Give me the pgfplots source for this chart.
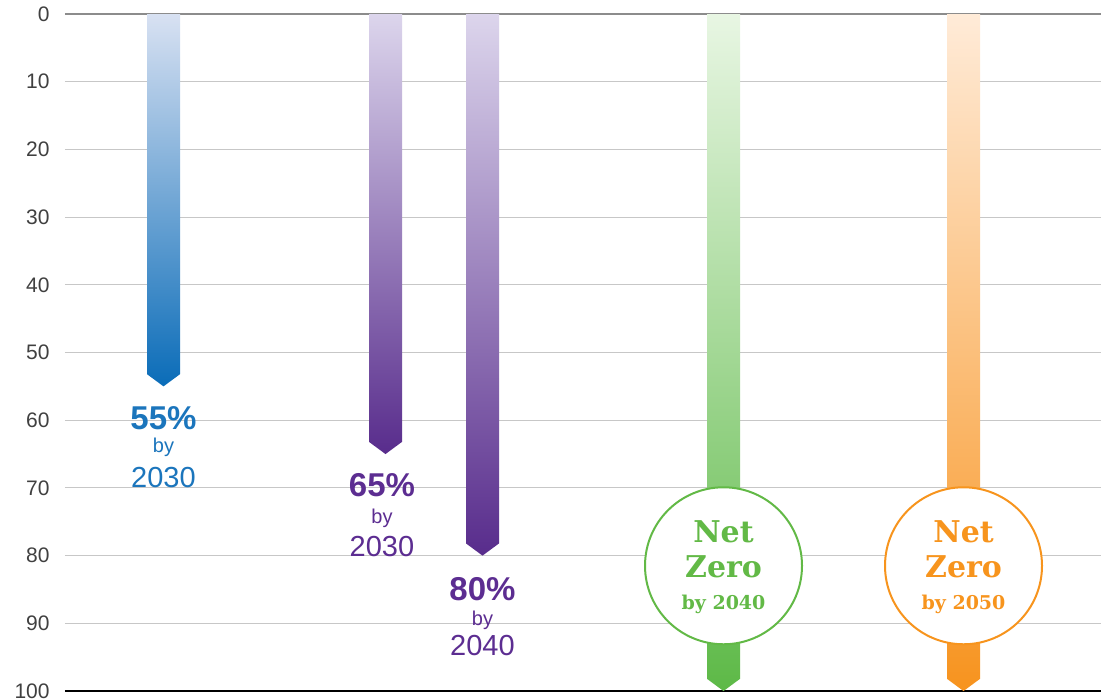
\documentclass[border=0pt]{standalone}
\usepackage{fontspec}
\setmainfont{Liberation Sans}
\newfontfamily\slab{DejaVu Serif}
\usepackage{pgfplots}
\pgfplotsset{compat=1.18}
\definecolor{blueL}{HTML}{D8E1F2}
\definecolor{blueD}{HTML}{0A6CB8}
\definecolor{blueT}{HTML}{1B75BC}
\definecolor{purL}{HTML}{DCD5EC}
\definecolor{purD}{HTML}{582C8C}
\definecolor{purT}{HTML}{5C2D91}
\definecolor{grnL}{HTML}{E8F6E3}
\definecolor{grnD}{HTML}{5DB947}
\definecolor{grnT}{HTML}{62B946}
\definecolor{orgL}{HTML}{FFEBD8}
\definecolor{orgD}{HTML}{F7931E}
\definecolor{orgT}{HTML}{F7941D}
\begin{document}
\begin{tikzpicture}
\useasboundingbox (-32.5pt,-3.5pt) rectangle (518pt,345.5pt);
\begin{axis}[
  at={(0,0)}, anchor=south west,
  scale only axis, width=518pt, height=338.5pt,
  xmin=0, xmax=1036, ymin=0, ymax=100,
  y dir=reverse, clip=false,
  xtick=\empty, ytick={0,10,...,100},
  ymajorgrids, grid style={draw=black!22, line width=0.5pt},
  axis line style={draw=none}, major tick length=0pt,
  /pgf/number format/assume math mode=true,
  yticklabel style={font=\fontsize{10.5}{12}\selectfont, text=black!75, inner sep=0pt, xshift=-7.5pt},
]
\draw[black!45, line width=1pt] (axis cs:0,0) -- (axis cs:1036,0);
\draw[black, line width=1pt] (axis cs:0,100) -- (axis cs:1036,100);
% bars: 55, 65, 80, 100, 100
\addplot[draw=none, top color=blueL, bottom color=blueD] coordinates {(82,0) (82,53.2) (98.5,55) (115,53.2) (115,0)} -- cycle;
\addplot[draw=none, top color=purL, bottom color=purD] coordinates {(304,0) (304,63.2) (320.5,65) (337,63.2) (337,0)} -- cycle;
\addplot[draw=none, top color=purL, bottom color=purD] coordinates {(401,0) (401,78.2) (417.5,80) (434,78.2) (434,0)} -- cycle;
\addplot[draw=none, top color=grnL, bottom color=grnD] coordinates {(642,0) (642,98.2) (658.5,100) (675,98.2) (675,0)} -- cycle;
\addplot[draw=none, top color=orgL, bottom color=orgD] coordinates {(882,0) (882,98.2) (898.5,100) (915,98.2) (915,0)} -- cycle;
% labels
\node[anchor=base, text=blueT, font=\bfseries\fontsize{16.5}{18}\selectfont] at (axis cs:98.5,61.4) {55\%};
\node[anchor=base, text=blueT, font=\fontsize{10}{12}\selectfont] at (axis cs:98.5,64.7) {by};
\node[anchor=base, text=blueT, font=\fontsize{14.5}{16}\selectfont] at (axis cs:98.5,69.9) {2030};
\node[anchor=base, text=purT, font=\bfseries\fontsize{16.5}{18}\selectfont] at (axis cs:317,71.3) {65\%};
\node[anchor=base, text=purT, font=\fontsize{10}{12}\selectfont] at (axis cs:317,75.2) {by};
\node[anchor=base, text=purT, font=\fontsize{14.5}{16}\selectfont] at (axis cs:317,80.1) {2030};
\node[anchor=base, text=purT, font=\bfseries\fontsize{16.5}{18}\selectfont] at (axis cs:417.5,86.7) {80\%};
\node[anchor=base, text=purT, font=\fontsize{10}{12}\selectfont] at (axis cs:417.5,90.3) {by};
\node[anchor=base, text=purT, font=\fontsize{14.5}{16}\selectfont] at (axis cs:417.5,94.7) {2040};
% circles
\node[circle, draw=grnT, line width=1pt, fill=white, minimum size=78.5pt, inner sep=0pt] at (axis cs:658.5,81.5) {};
\node[anchor=base, text=grnT, font=\slab\bfseries\fontsize{15}{16}\selectfont] at (axis cs:658.5,78.1) {Net};
\node[anchor=base, text=grnT, font=\slab\bfseries\fontsize{15}{16}\selectfont] at (axis cs:658.5,83.3) {Zero};
\node[anchor=base, text=grnT, font=\slab\bfseries\fontsize{9.5}{11}\selectfont] at (axis cs:658.5,88.0) {by 2040};
\node[circle, draw=orgT, line width=1pt, fill=white, minimum size=78.5pt, inner sep=0pt] at (axis cs:898.5,81.5) {};
\node[anchor=base, text=orgT, font=\slab\bfseries\fontsize{15}{16}\selectfont] at (axis cs:898.5,78.1) {Net};
\node[anchor=base, text=orgT, font=\slab\bfseries\fontsize{15}{16}\selectfont] at (axis cs:898.5,83.3) {Zero};
\node[anchor=base, text=orgT, font=\slab\bfseries\fontsize{9.5}{11}\selectfont] at (axis cs:898.5,88.0) {by 2050};
\end{axis}
\end{tikzpicture}
\end{document}
